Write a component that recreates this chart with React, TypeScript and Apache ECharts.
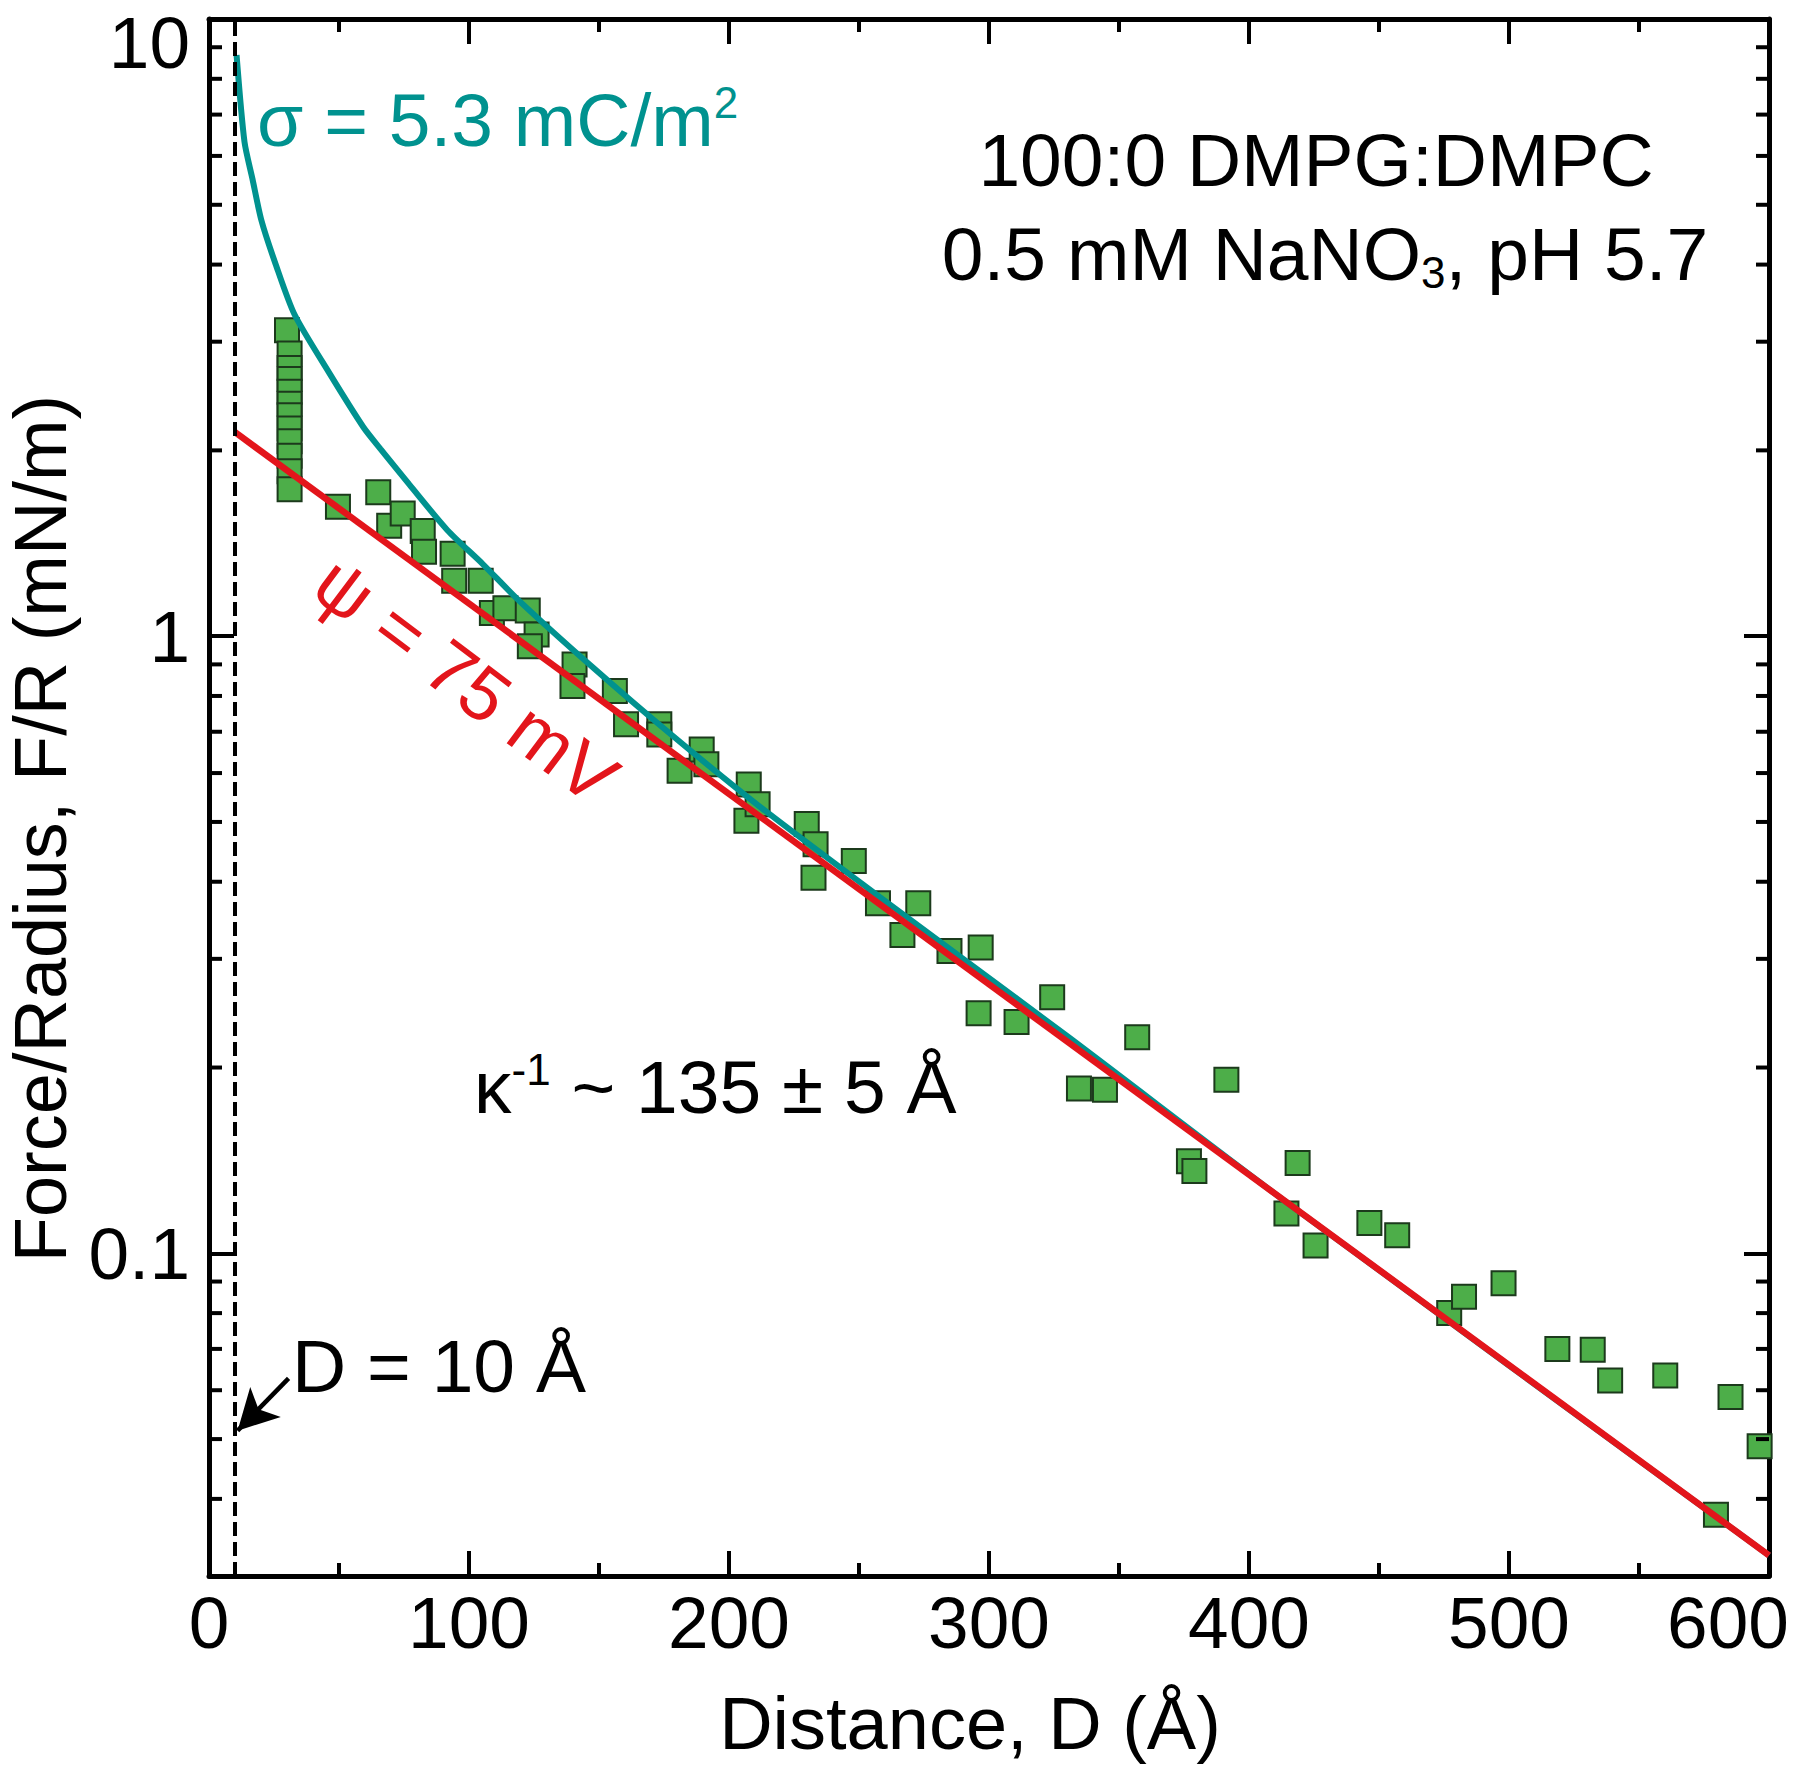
import React, { useEffect, useRef } from 'react';
import * as echarts from 'echarts';

const FONT = '"Liberation Sans", Arial, Helvetica, sans-serif';
const TEAL = '#00928F';
const RED = '#E3151B';
const GREEN = '#4DAE49';
const BLACK = '#000000';

// axes
const X_MIN = 0;
const X_MAX = 600;
const X_INTERVAL = 100;
const Y_MIN = 0.03;
const Y_MAX = 10;
const minorYTicks = [0.04, 0.05, 0.06, 0.07, 0.08, 0.09, 0.2, 0.3, 0.4, 0.5, 0.6, 0.7, 0.8, 0.9, 2, 3, 4, 5, 6, 7, 8, 9];

// measured data: distance (Å) and force/radius (mN/m)
const distance = [30, 31, 31, 31, 31, 31, 31, 31, 31, 31, 31, 31,
  49.6, 65.1, 69.3, 74.5, 82.2, 82.7, 93.7, 94.3, 104.5, 108.8, 114.0, 122.6, 126.0, 123.4,
  140.6, 139.8, 156.1, 160.4, 173.2, 173.2, 181, 189.5, 191.3, 206.7, 207.6, 211, 229.9,
  232.5, 233.3, 248, 257.3, 266.7, 272.8, 284.8, 296.8, 296, 310.6, 324.3, 334.6, 344.6,
  357, 376.9, 379, 391.3, 414.4, 418.7, 425.6, 446.3, 457, 477, 482.7, 497.9, 518.6,
  532.2, 538.9, 560.1, 579.6, 585.2, 596.4];
const force = [3.13, 2.87, 2.72, 2.61, 2.49, 2.38, 2.28, 2.17, 2.07, 1.96, 1.85, 1.73,
  1.62, 1.71, 1.51, 1.58, 1.48, 1.37, 1.36, 1.23, 1.23, 1.09, 1.11, 1.10, 1.006, 0.963,
  0.90, 0.83, 0.815, 0.72, 0.72, 0.693, 0.605, 0.655, 0.62, 0.502, 0.575, 0.534, 0.496,
  0.406, 0.46, 0.432, 0.369, 0.328, 0.369, 0.309, 0.313, 0.245, 0.237, 0.26, 0.185, 0.184,
  0.224, 0.141, 0.136, 0.191, 0.116, 0.140, 0.103, 0.112, 0.107, 0.080, 0.085, 0.0894, 0.070,
  0.0698, 0.0622, 0.0634, 0.0377, 0.0585, 0.0487];

// constant charge fit (sigma = 5.3 mC/m2)
const sigmaD = [10.6, 13.65, 16.7, 20.2, 25.6, 32.9, 46.0, 59.4, 66.0, 77.1, 91.7, 105.2, 119.0, 146.7, 177.5, 211.7, 257.9, 330, 415, 600];
const sigmaF = [8.74, 6.32, 5.51, 4.71, 4.01, 3.32, 2.68, 2.18, 2.01, 1.76, 1.485, 1.31, 1.144, 0.897, 0.694, 0.530, 0.378, 0.225, 0.1205, 0.0324];

// constant potential fit (psi = 75 mV)
const psiD = [10, 600];
const psiF = [2.14, 0.0324];

// annotations
const contactD = 10;
const arrowFrom = [30.6, 0.0627];
const arrowTo = [11, 0.0516];

const zip = (a: number[], b: number[]) => a.map((v, i) => [v, b[i]]);

export default function App() {
  const ref = useRef<HTMLDivElement>(null);
  useEffect(() => {
    document.body.style.margin = '0';
    if (!ref.current) return;
    const chart = echarts.init(ref.current, undefined, { renderer: 'svg' });
    const axisLine = { show: true, onZero: false, lineStyle: { color: BLACK, width: 5 } };
    const axisTick = { show: true, inside: true, length: 25, lineStyle: { color: BLACK, width: 4 } };
    const labelBase = { fontSize: 73, fontFamily: FONT, color: BLACK };
    const nameBase = { fontSize: 74, fontFamily: FONT, color: BLACK };
    const option: any = {
      animation: false,
      backgroundColor: '#ffffff',
      grid: { left: 209, right: 31, top: 19, bottom: 196, containLabel: false, outerBoundsMode: 'none' },
      xAxis: [
        {
          type: 'value', min: X_MIN, max: X_MAX, interval: X_INTERVAL, position: 'bottom',
          axisLine, axisTick,
          minorTick: { show: true, splitNumber: 2, length: 13, lineStyle: { color: BLACK, width: 4 } },
          splitLine: { show: false },
          axisLabel: {
            ...labelBase, margin: 10,
            formatter: (v: number) => (v === X_MAX ? '{r|' + v + '}' : String(v)),
            rich: { r: { ...labelBase, padding: [0, 82, 0, 0] } },
          },
          name: 'Distance, D (Å)', nameLocation: 'middle', nameGap: 110,
          nameTextStyle: { ...nameBase, padding: [0, 38, 0, 0] },
        },
        {
          type: 'value', min: X_MIN, max: X_MAX, interval: X_INTERVAL, position: 'top',
          axisLine, axisTick,
          minorTick: { show: true, splitNumber: 2, length: 13, lineStyle: { color: BLACK, width: 4 } },
          splitLine: { show: false }, axisLabel: { show: false },
        },
      ],
      yAxis: [
        {
          type: 'log', logBase: 10, min: Y_MIN, max: Y_MAX, position: 'left',
          axisLine, axisTick, splitLine: { show: false }, minorTick: { show: false },
          axisLabel: {
            ...labelBase, margin: 19, showMinLabel: false,
            formatter: (v: number) => (Math.abs(v - Y_MAX) < 1e-6 ? '{t|' + Y_MAX + '}' : String(v)),
            rich: { t: { ...labelBase, padding: [46, 0, 0, 0] } },
          },
          name: 'Force/Radius, F/R (mN/m)', nameLocation: 'middle', nameGap: 119,
          nameTextStyle: { ...nameBase, padding: [0, 62, 0, 0] },
        },
        {
          type: 'log', logBase: 10, min: Y_MIN, max: Y_MAX, position: 'right',
          axisLine, axisTick, splitLine: { show: false }, minorTick: { show: false },
          axisLabel: { show: false },
        },
      ],
      series: [
        {
          type: 'custom', name: 'minor ticks', xAxisIndex: 0, yAxisIndex: 0, silent: true,
          data: minorYTicks.map((v) => [X_MIN, v]),
          renderItem: (params: any, api: any) => {
            const v = api.value(1);
            const l = api.coord([X_MIN, v]);
            const r = api.coord([X_MAX, v]);
            return {
              type: 'group',
              children: [
                { type: 'line', shape: { x1: l[0], y1: l[1], x2: l[0] + 13, y2: l[1] }, style: { stroke: BLACK, lineWidth: 4 } },
                { type: 'line', shape: { x1: r[0] - 13, y1: r[1], x2: r[0], y2: r[1] }, style: { stroke: BLACK, lineWidth: 4 } },
              ],
            };
          },
          z: 5,
        },
        {
          type: 'scatter', name: 'data', data: zip(distance, force),
          symbol: 'rect', symbolSize: 24,
          itemStyle: { color: GREEN, borderColor: '#1C3A1C', borderWidth: 2, opacity: 1 },
          z: 2,
        },
        {
          type: 'line', name: 'sigma', data: zip(sigmaD, sigmaF), showSymbol: false, symbol: 'none',
          smooth: 0.25, lineStyle: { color: TEAL, width: 6 }, z: 3,
          markLine: {
            silent: true, animation: false,
            symbol: ['none', 'arrow'], symbolSize: [32, 40],
            lineStyle: { color: BLACK, width: 4.5, type: 'solid' },
            label: { show: false },
            data: [[{ coord: arrowFrom }, { coord: arrowTo }]],
          },
        },
        {
          type: 'line', name: 'psi', data: zip(psiD, psiF), showSymbol: false, symbol: 'none',
          lineStyle: { color: RED, width: 6.5 }, z: 4,
          markLine: {
            silent: true, animation: false, symbol: ['none', 'none'],
            label: { show: false },
            lineStyle: { color: BLACK, width: 4, type: [14, 6] },
            data: [{ xAxis: contactD }],
          },
        },
      ],
      graphic: [
        {
          type: 'text', x: 257, y: 120, z: 10,
          style: {
            text: '{a|σ = 5.3 mC/m}{s|2}',
            textAlign: 'left', align: 'left', textVerticalAlign: 'middle', verticalAlign: 'middle',
            fill: TEAL,
            rich: {
              a: { fontSize: 75, fontFamily: FONT, fill: TEAL, lineHeight: 80 },
              s: { fontSize: 44, fontFamily: FONT, fill: TEAL, lineHeight: 40, verticalAlign: 'top' },
            },
          },
        },
        {
          type: 'text', x: 1316, y: 160, z: 10,
          style: {
            text: '100:0 DMPG:DMPC', font: '75px ' + FONT, fill: BLACK,
            textAlign: 'center', align: 'center', textVerticalAlign: 'middle', verticalAlign: 'middle',
          },
        },
        {
          type: 'text', x: 1325, y: 254, z: 10,
          style: {
            text: '{a|0.5 mM NaNO}{b|3}{a|, pH 5.7}',
            textAlign: 'center', align: 'center', textVerticalAlign: 'middle', verticalAlign: 'middle',
            fill: BLACK,
            rich: {
              a: { fontSize: 75, fontFamily: FONT, fill: BLACK, lineHeight: 80 },
              b: { fontSize: 44, fontFamily: FONT, fill: BLACK, lineHeight: 28, verticalAlign: 'bottom' },
            },
          },
        },
        {
          type: 'text', x: 474, y: 1087, z: 10,
          style: {
            text: '{a|κ}{s|-1}{a| ~ 135 ± 5 Å}',
            textAlign: 'left', align: 'left', textVerticalAlign: 'middle', verticalAlign: 'middle',
            fill: BLACK,
            rich: {
              a: { fontSize: 75, fontFamily: FONT, fill: BLACK, lineHeight: 80 },
              s: { fontSize: 44, fontFamily: FONT, fill: BLACK, lineHeight: 40, verticalAlign: 'top' },
            },
          },
        },
        {
          type: 'text', x: 292, y: 1366, z: 10,
          style: {
            text: 'D = 10 Å', font: '75px ' + FONT, fill: BLACK,
            textAlign: 'left', align: 'left', textVerticalAlign: 'middle', verticalAlign: 'middle',
          },
        },
        {
          type: 'text', x: 466, y: 680, z: 10, rotation: -37 * Math.PI / 180,
          style: {
            text: 'ψ = 75 mV', font: '75px ' + FONT, fill: RED,
            textAlign: 'center', align: 'center', textVerticalAlign: 'middle', verticalAlign: 'middle',
          },
        },
      ],
    };
    chart.setOption(option);
    return () => chart.dispose();
  }, []);
  return <div ref={ref} style={{ position: 'absolute', left: 0, top: 0, width: 1800, height: 1772 }} />;
}
